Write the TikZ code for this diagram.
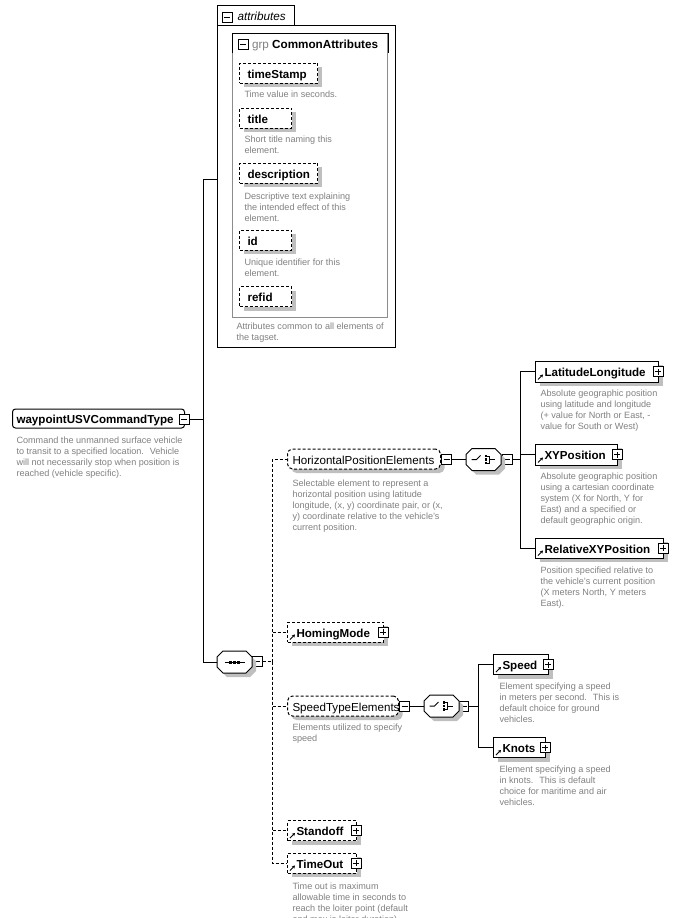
\documentclass[tikz,border=0pt]{standalone}
\usepackage{fontspec}
\setmainfont{Liberation Sans}
\usetikzlibrary{shadows,arrows.meta}
\definecolor{desctext}{gray}{0.5}
\definecolor{shadegray}{gray}{0.75}
\definecolor{grpline}{gray}{0.55}
\newcommand{\namefont}{\fontsize{11.6}{13}\selectfont}
\newcommand{\descfont}{\fontsize{9.1}{11}\selectfont}

\begin{document}
\begin{tikzpicture}[x=1pt,y=1pt,line width=1pt]
\tikzstyle{every node}+=[inner sep=0pt]
\tikzstyle{dsh}=[dash pattern=on 3pt off 2pt]
\tikzstyle{boxshadow}=[drop shadow={shadow xshift=4pt,shadow yshift=-4pt,fill=shadegray,opacity=1}]
\tikzstyle{tagtxt}=[font=\namefont\bfseries,text height=10.5pt,text depth=0pt,align=left,anchor=west]
\tikzstyle{attr}=[draw,dsh,fill=white,boxshadow,tagtxt,minimum height=20pt,inner xsep=8pt]
\tikzstyle{elem}=[draw,fill=white,boxshadow,tagtxt,minimum height=20pt,inner xsep=9pt,
  path picture={\draw[solid,line width=0.9pt,-{Stealth[length=3pt,width=3.5pt]}]
    ([shift={(2.5pt,2.5pt)}]path picture bounding box.south west) -- ++(5pt,5pt);}]
\tikzstyle{optelem}=[elem,dsh]
\tikzstyle{grpref}=[draw,dsh,fill=white,boxshadow,tagtxt,font=\namefont,rounded corners=5pt,minimum height=20pt,inner xsep=5pt]
\tikzstyle{comp}=[minimum width=34pt,minimum height=21pt,anchor=west]
\tikzstyle{tgl}=[draw,solid,fill=white,minimum size=10pt]
\tikzstyle{tglminus}=[tgl,path picture={\draw[solid,line width=1pt] ([xshift=-3pt]path picture bounding box.center) -- ([xshift=3pt]path picture bounding box.center);}]
\tikzstyle{tglplus}=[tgl,path picture={\draw[solid,line width=1pt] ([xshift=-3pt]path picture bounding box.center) -- ([xshift=3pt]path picture bounding box.center) ([yshift=-3pt]path picture bounding box.center) -- ([yshift=3pt]path picture bounding box.center);}]
\tikzstyle{descr}=[anchor=north west,yshift=7.5pt,align=left,text=desctext,font=\descfont,execute at begin node={\rule{0pt}{7.5pt}}]
\useasboundingbox (0,0) rectangle (682,-918);

\node[draw,anchor=north west,minimum width=178pt,minimum height=322pt] (attrs) at (217,-25) {};
\draw (attrs.north west) -- ++(0,20) -- ++(77,0) -- ++(0,-20);
\node[tglminus] (attrsm) at (227,-17) {};
\node[anchor=base west,font=\fontsize{11.7}{13}\selectfont\itshape] (attrst) at (237,-20.5) {attributes};
\node[draw=grpline,anchor=north west,minimum width=155pt,minimum height=284pt] (grp) at (232,-33) {};
\draw ([yshift=-20]grp.north west) -- (grp.north west) -- (grp.north east) -- ([yshift=-20]grp.north east);
\node[tglminus] (grpm) at (243,-44) {};
\node[anchor=base west,font=\fontsize{11.7}{13}\selectfont] (grpt) at (251.5,-48) {\textcolor{desctext}{grp} \textbf{CommonAttributes}};

\node[attr,text width=62pt] (timestamp) at (239,-73) {timeStamp};
\node[descr] (timestampd) at (244,-97) {Time value in seconds.};
\node[attr,text width=36pt] (title) at (239,-118) {title};
\node[descr] (titled) at (244,-143) {Short title naming this\\element.};
\node[attr,text width=62pt] (description) at (239,-173) {description};
\node[descr] (descriptiond) at (244,-200) {Descriptive text explaining\\the intended effect of this\\element.};
\node[attr,text width=36pt] (id) at (239,-240) {id};
\node[descr] (idd) at (244,-266) {Unique identifier for this\\element.};
\node[attr,text width=36pt] (refid) at (239,-296.5) {refid};
\node[descr] (attrsd) at (236,-330) {Attributes common to all elements of\\the tagset.};

\node[draw,fill=white,tagtxt,rounded corners=3pt,minimum height=19pt,inner xsep=4pt,text width=164pt] (root) at (12,-418.5) {waypointUSVCommandType};
\node[tglminus] (rootm) at (184,-419) {};
\node[descr] (rootd) at (16,-444) {Command the unmanned surface vehicle\\to transit to a specified location.~ Vehicle\\will not necessarily stop when position is\\reached (vehicle specific).};

\node[comp] (seq) at (217,-662) {};
\node[tglminus] (seqm) at (257,-661.5) {};

\node[grpref,text width=143pt] (hpe) at (287,-459) {HorizontalPositionElements};
\node[tglminus] (hpem) at (446.5,-459.5) {};
\node[descr] (hped) at (292,-487) {Selectable element to represent a\\horizontal position using latitude\\longitude, (x, y) coordinate pair, or (x,\\y) coordinate relative to the vehicle's\\current position.};
\node[comp] (ch1) at (466,-459.5) {};
\node[tglminus] (ch1m) at (507,-459.5) {};

\node[elem,minimum height=21pt,text width=105pt] (latlong) at (535,-371.5) {LatitudeLongitude};
\node[descr] (latlongd) at (540,-397) {Absolute geographic position\\using latitude and longitude\\(+ value for North or East, -\\value for South or West)};
\node[elem,minimum height=21pt,text width=64pt] (xypos) at (535,-454.5) {XYPosition};
\node[descr] (xyposd) at (540,-480) {Absolute geographic position\\using a cartesian coordinate\\system (X for North, Y for\\East) and a specified or\\default geographic origin.};
\node[elem,text width=110pt] (relxy) at (535,-548) {RelativeXYPosition};
\node[descr] (relxyd) at (540,-574) {Position specified relative to\\the vehicle's current position\\(X meters North, Y meters\\East).};

\node[optelem,text width=78pt] (homing) at (287,-632) {HomingMode};

\node[grpref,text width=101pt] (speedtype) at (287,-706) {SpeedTypeElements};
\node[tglminus] (speedtypem) at (404.5,-706) {};
\node[descr] (speedtyped) at (292,-731) {Elements utilized to specify\\speed};
\node[comp] (ch2) at (424,-706) {};
\node[tglminus] (ch2m) at (463.5,-706) {};
\node[elem,text width=37pt] (speed) at (493,-664.5) {Speed};
\node[descr] (speedd) at (499,-690) {Element specifying a speed\\in meters per second.~ This is\\default choice for ground\\vehicles.};
\node[elem,text width=34pt] (knots) at (493,-747.5) {Knots};
\node[descr] (knotsd) at (499,-773) {Element specifying a speed\\in knots.~ This is default\\choice for maritime and air\\vehicles.};

\node[optelem,text width=51pt] (standoff) at (287,-830.5) {Standoff};
\node[optelem,text width=51pt] (timeout) at (287,-863) {TimeOut};
\node[descr] (timeoutd) at (292,-890) {Time out is maximum\\allowable time in seconds to\\reach the loiter point (default\\and max is loiter duration).};

\foreach \n in {latlong,xypos,relxy,homing,speed,knots,standoff,timeout}
  \node[tglplus] (\n-p) at ([xshift=-1]\n.east) {};

\foreach \c in {seq,ch1,ch2}
  \draw[fill=white,boxshadow] ([xshift=6]\c.north west) -- ([xshift=-6]\c.north east)
    -- ([yshift=-6]\c.north east) -- ([yshift=6]\c.south east) -- ([xshift=-6]\c.south east)
    -- ([xshift=6]\c.south west) -- ([yshift=6]\c.south west) -- ([yshift=-6]\c.north west) -- cycle;

\draw ([xshift=-10]seq.center) -- ([xshift=10]seq.center);
\foreach \d in {-4,0,4}
  \fill ([xshift=\d]seq.center) ++(-1.5,-1.5) rectangle ++(3,3);
\foreach \c in {ch1,ch2} {
  \draw (\c.center) ++(-12,0) -- ++(5,0) -- ++(4,4);
  \foreach \d in {-3.5,0,3.5}
    \fill (\c.center) ++(1,\d-1.25) rectangle ++(2.5,2.5);
  \draw (\c.center) ++(3.5,3.5) -- ++(2,0) -- ++(0,-7) -- ++(-2,0);
  \draw (\c.center) ++(5.5,0) -- ++(6,0);
}

\coordinate (spine) at (203,-419);
\draw (rootm.east) -- (spine);
\draw (spine) |- ([yshift=7]attrs.west);
\draw (spine) |- (seq.west);
\coordinate (dspine) at (272,-661.5);
\draw[dsh] (seqm.east) -- (dspine);
\foreach \n in {hpe,homing,speedtype,standoff,timeout}
  \draw[dsh] (dspine) |- (\n.west);
\draw (hpem.east) -- (ch1.west);
\coordinate (spine1) at (520,-459.5);
\draw (ch1m.east) -- (spine1);
\foreach \n in {latlong,xypos,relxy}
  \draw (spine1) |- (\n.west);
\draw (speedtypem.east) -- (ch2.west);
\coordinate (spine2) at (478,-706);
\draw (ch2m.east) -- (spine2);
\foreach \n in {speed,knots}
  \draw (spine2) |- (\n.west);
\end{tikzpicture}
\end{document}
